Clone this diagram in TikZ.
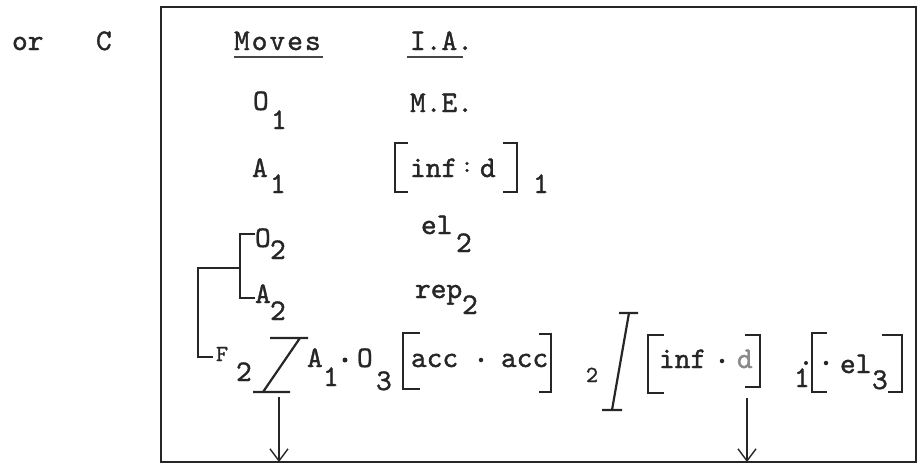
\documentclass[tikz,border=0pt]{standalone}
\usepackage{fontspec}
\usetikzlibrary{arrows.meta,calc}
\definecolor{ink}{HTML}{262626}
\definecolor{pale}{HTML}{8A8A8A}
\newfontfamily\twfont[FakeBold=1.2]{lmmono10-regular.otf}
\newcommand\tw{\fontsize{30}{33}\selectfont\twfont}
\newcommand\twsm{\fontsize{23}{26}\selectfont\twfont}
\begin{document}
\begin{tikzpicture}[x=1pt,y=-1pt,
  txt/.style={anchor=base west,inner sep=0pt,outer sep=0pt,font=\tw,text=ink},
  smtxt/.style={txt,font=\twsm},
  ln/.style={draw=ink,line width=1.6pt},
  uln/.style={draw=ink!85,line width=2.4pt},
  brk/.style={draw=ink,line width=1.8pt},
  slashst/.style={draw=ink,line width=2.2pt},
  arr/.style={draw=ink,line width=1.4pt,-{Straight Barb[length=12pt,width=18pt,line width=1.4pt]}},
  boxst/.style={draw=ink,line width=2pt,inner sep=0pt,outer sep=0pt},
  bdot/.style={circle,fill=ink,inner sep=0pt,minimum size=5pt}]
\useasboundingbox (0,0) rectangle (919,475);
\node[boxst,minimum width=755pt,minimum height=455pt,anchor=north west] (box) at (161,7) {};
% header
\node[txt] (or) at (12,50) {or};
\node[txt] (c) at (96,50) {C};
\node[txt] (moves) at (234,50) {M\kern2pt o\kern2pt v\kern2pt e\kern2pt s};
\node[txt] (ia) at (410,50) {I.A.};
\draw[uln] (moves.base west) ++(0,7) coordinate (mu1) -- ++(89,0) coordinate (mu2);
\draw[uln] (407,57) coordinate (iu1) -- (463,57) coordinate (iu2);
% row O1
\node[txt] (o1) at (253,110) {O};
\node[txt] (o1s) at (271,129) {1};
\node[txt] (me) at (410,112) {M.E.};
% row A1
\node[txt] (a1) at (252,177) {A};
\node[txt] (a1s) at (270,193) {1};
\node[txt] (inf1) at (410,177) {inf};
\node[smtxt] (col1) at (461,172) {:};
\node[txt] (d1) at (480,177) {d};
\node[txt] (b1s) at (533,193) {1};
\coordinate (b1l) at (395,143);
\coordinate (b1r) at (517,143);
\draw[brk] ($(b1l)+(13,0)$) -- (b1l) -- ++(0,49) -- ++(13,0);
\draw[brk] ($(b1r)+(-14,0)$) -- (b1r) -- ++(0,49) -- ++(-14,0);
% row O2
\node[txt] (o2) at (255,247) {O};
\node[txt] (o2s) at (270,259) {2};
\node[txt] (el2) at (421,234) {el};
\node[txt] (el2s) at (456,252) {2};
% row A2
\node[txt] (a2) at (255,303) {A};
\node[txt] (a2s) at (270,320) {2};
\node[txt] (rep) at (415,298) {rep};
\node[txt] (reps) at (462,314) {2};
% grouping brackets
\coordinate (g1) at (240,234);
\coordinate (g2) at (240,298);
\coordinate (g3) at (240,268);
\coordinate (g4) at (198,268);
\coordinate (g5) at (198,357);
\draw[ln] (o2.west |- g1) -- (g1) -- (g2) -- (a2.west |- g2);
\draw[ln] (g3) -- (g4) -- (g5) -- (213,357) coordinate (g6);
% row F
\node[smtxt] (f2) at (216,361) {F};
\node[txt] (f2s) at (236,381) {2};
\coordinate (s1a) at (270,338);
\coordinate (s1b) at (308,338);
\coordinate (s1c) at (253,392);
\coordinate (s1d) at (290,392);
\draw[slashst] (s1a) -- (s1b) (s1c) -- (s1d) (300,338) coordinate (s1t) -- (263,392) coordinate (s1u);
\coordinate (ar1) at (279,397);
\draw[arr] (ar1) -- (ar1 |- box.south);
\node[txt] (a3) at (307,367) {A};
\node[txt] (a3s) at (323,386) {1};
\node[bdot] (dot1) at (345,360) {};
\node[txt] (o3) at (357,367) {O};
\node[txt] (o3s) at (376,390) {3};
\coordinate (b2l) at (403,333);
\coordinate (b2r) at (551,334);
\draw[brk] ($(b2l)+(17,0)$) -- (b2l) -- ++(0,56) -- ++(17,0);
\draw[brk] ($(b2r)+(-12,0)$) -- (b2r) -- ++(0,58) -- ++(-12,0);
\node[txt] (acc1) at (411,367) {acc};
\node[bdot,minimum size=4.5pt] (dot2) at (481,360) {};
\node[txt] (acc2) at (501,367) {acc};
\node[smtxt] (two) at (586,382) {2};
\coordinate (s2a) at (619,313);
\coordinate (s2b) at (638,313);
\coordinate (s2c) at (602,410);
\coordinate (s2d) at (622,410);
\draw[slashst] (s2a) -- (s2b) (s2c) -- (s2d) (629,313) coordinate (s2t) -- (612,410) coordinate (s2u);
\coordinate (b3l) at (648,335);
\coordinate (b3r) at (760,335);
\draw[brk] ($(b3l)+(16,0)$) -- (b3l) -- ++(0,58) -- ++(16,0);
\draw[brk] ($(b3r)+(-15,0)$) -- (b3r) -- ++(0,52) -- ++(-15,0);
\node[txt] (inf2) at (659,368) {inf};
\node[bdot,minimum size=4.5pt] (dot3) at (722,361) {};
\node[txt,text=pale] (d2) at (737,368) {d};
\coordinate (ar2) at (747,398);
\draw[arr] (ar2) -- (ar2 |- box.south);
\node[txt] (one) at (794,387) {1};
\node[bdot,minimum size=4pt] (dot4) at (806,363) {};
\coordinate (b4l) at (812,333);
\coordinate (b4r) at (902,335);
\draw[brk] ($(b4l)+(15,0)$) -- (b4l) -- ++(0,59) -- ++(15,0);
\draw[brk] ($(b4r)+(-20,0)$) -- (b4r) -- ++(0,57) -- ++(-14,0);
\node[bdot,minimum size=4.5pt] (dot5) at (826,363) {};
\node[txt] (el3) at (840,373) {el};
\node[txt] (el3s) at (872,389) {3};
\end{tikzpicture}
\end{document}
